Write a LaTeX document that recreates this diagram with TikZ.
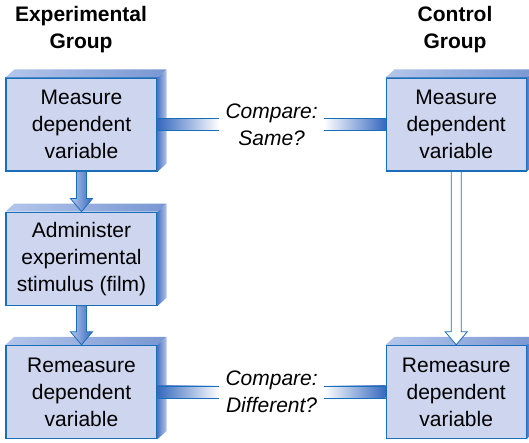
\documentclass[tikz,border=0pt]{standalone}
\usepackage{fontspec}
\setmainfont{Liberation Sans}
\usepackage{tikz}
\usetikzlibrary{positioning, calc}

\definecolor{boxfill}{RGB}{206,213,238}
\definecolor{boxline}{RGB}{25,110,185}
\definecolor{topface}{RGB}{120,150,210}
\definecolor{sidedark}{RGB}{80,120,195}
\definecolor{sidelight}{RGB}{180,198,234}
\definecolor{bardark}{RGB}{55,105,190}

% 3-D rim on top and right of a box
\newcommand{\boxrim}[1]{%
  \shade[left color=sidelight, right color=topface] (#1.north west) -- ++(9,8) -- ($(#1.north east)+(9,8)$) -- (#1.north east) -- cycle;
  \shade[left color=sidedark, right color=sidelight] (#1.north east) -- ++(9,8) -- ($(#1.south east)+(9,8)$) -- (#1.south east) -- cycle;
}
% fat arrow from bottom of one box to top of the next
\newcommand{\blockarrow}[3]{%
  \path[#1] ($(#2.south)+(-5,0)$) -- ($(#3.north)+(-5,13)$) -- ($(#3.north)+(-11,13)$) -- (#3.north)
    -- ($(#3.north)+(11,13)$) -- ($(#3.north)+(5,13)$) -- ($(#2.south)+(5,0)$) -- cycle;
}
% shaded bar between a box and a compare label
\newcommand{\comparebar}[4]{%
  \shade[left color=#3, right color=#4] ($(#1.east)+(0,6)$) rectangle ($(#2.west)+(0,-6)$);
  \draw[boxline, line width=0.8pt] ($(#1.east)+(0,6)$) -- ($(#2.west)+(0,6)$) ($(#1.east)+(0,-6)$) -- ($(#2.west)+(0,-6)$);
}

\begin{document}
\begin{tikzpicture}[
    x=1pt, y=1pt,
    box/.style={rectangle, draw=boxline, line width=1.2pt, fill=boxfill, minimum width=140pt, minimum height=93pt, align=center, font=\fontsize{21}{27}\selectfont},
    widebox/.style={box, minimum width=151pt},
    head/.style={align=center, font=\fontsize{21}{27}\selectfont\bfseries},
    cmp/.style={align=center, inner xsep=6pt, font=\fontsize{21}{27}\selectfont\itshape},
    solidarrow/.style={left color=sidelight, right color=bardark, draw=boxline, line width=0.8pt},
    hollowarrow/.style={fill=white, draw=boxline, line width=0.8pt}
]
    \useasboundingbox (0,0) rectangle (529,442);

    \node[head] (exphead) at (81,412) {Experimental\\Group};
    \node[head] (ctlhead) at (455,412) {Control\\Group};

    \node[widebox] (expmeas) at (81.5,317.5) {Measure\\dependent\\variable};
    \node[widebox, below=40pt of expmeas] (expstim) {Administer\\experimental\\stimulus (film)};
    \node[widebox, below=39pt of expstim] (expremeas) {Remeasure\\dependent\\variable};
    \node[box, right=228pt of expmeas] (ctlmeas) {Measure\\dependent\\variable};
    \node[box, right=228pt of expremeas] (ctlremeas) {Remeasure\\dependent\\variable};

    \node[cmp] (cmpsame) at ($(expmeas.east)!0.5!(ctlmeas.west)$) {Compare:\\Same?};
    \node[cmp] (cmpdiff) at ($(expremeas.east)!0.5!(ctlremeas.west)$) {Compare:\\Different?};

    \foreach \b in {expmeas, expstim, expremeas, ctlmeas, ctlremeas}
        {\boxrim{\b}}

    \blockarrow{solidarrow}{expmeas}{expstim}
    \blockarrow{solidarrow}{expstim}{expremeas}
    \blockarrow{hollowarrow}{ctlmeas}{ctlremeas}

    \comparebar{expmeas}{cmpsame}{bardark}{white}
    \comparebar{cmpsame}{ctlmeas}{white}{bardark}
    \comparebar{expremeas}{cmpdiff}{bardark}{white}
    \comparebar{cmpdiff}{ctlremeas}{white}{bardark}
\end{tikzpicture}
\end{document}
